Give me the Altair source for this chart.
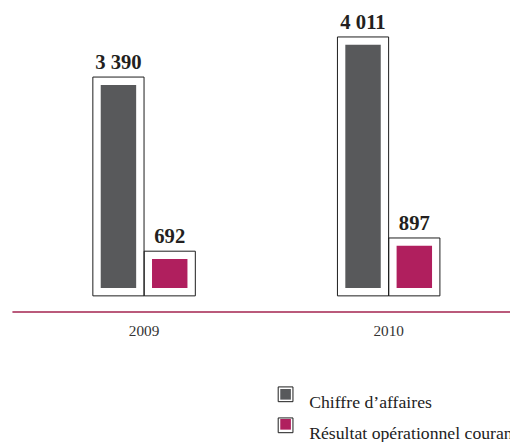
import altair as alt
import pandas as pd

years = ["2009", "2010"]
series = ["Chiffre d’affaires", "Résultat opérationnel courant"]
chiffre_affaires = [3390, 4011]
resultat_op = [692, 897]
colors = ["#58595B", "#B01F5E"]

rows = []
for i, yr in enumerate(years):
    rows.append({"year": yr, "series": series[0], "value": chiffre_affaires[i]})
    rows.append({"year": yr, "series": series[1], "value": resultat_op[i]})
df = pd.DataFrame(rows)

FONT = "Liberation Serif"

x = alt.X(
    "year:N",
    scale=alt.Scale(range=[4, 521], paddingInner=0.5806, paddingOuter=0.3306),
    axis=alt.Axis(
        title=None, orient="bottom", offset=16, domainColor="#A3234F",
        domainWidth=1.5, ticks=False, grid=False, labelAngle=0, labelPadding=12,
        labelFont=FONT, labelFontSize=15.5, labelColor="#333333",
    ),
)
xo = alt.XOffset("series:N", scale=alt.Scale(paddingInner=0, paddingOuter=0))
y = alt.Y("value:Q", scale=alt.Scale(domain=[0, 4407]), axis=None)

legend_common = dict(
    title=None, orient="none", legendX=273, legendY=380, symbolSize=225,
    labelFont=FONT, labelFontSize=18, labelColor="#222222", labelOffset=15,
    labelBaseline="top", rowPadding=3.5, labelLimit=400, padding=0,
)

base = alt.Chart(df)

outer = base.mark_bar(filled=False, strokeWidth=1, width=52).encode(
    x=x, xOffset=xo, y=y,
    stroke=alt.Stroke(
        "series:N",
        scale=alt.Scale(range=["#1a1a1a", "#1a1a1a"]),
        legend=alt.Legend(symbolType="M-1,-1H1V1H-1Z", symbolStrokeWidth=1,
                          symbolFillColor="transparent", **legend_common),
    ),
)

inner = base.mark_bar(width=36, yOffset=8, y2Offset=-8).encode(
    x=x, xOffset=xo, y=y, y2=alt.Y2(datum=0),
    fill=alt.Fill(
        "series:N",
        scale=alt.Scale(domain=series, range=colors),
        legend=alt.Legend(symbolType="M-0.72,-0.72H0.72V0.72H-0.72Z",
                          symbolStrokeWidth=0, labelOpacity=0, **legend_common),
    ),
)

labels = base.transform_calculate(
    label="replace(format(datum.value, ','), ',', ' ')"
).mark_text(
    font=FONT, fontWeight="bold", fontSize=21, baseline="alphabetic", dy=-8,
    color="#231F20",
).encode(x=x, xOffset=xo, y=y, text="label:N")

chart = alt.layer(outer, inner, labels).properties(
    width=510, height=289,
    autosize=alt.AutoSizeParams(type="none"),
    padding={"left": 0, "top": 0, "right": 0, "bottom": 145},
).configure(background="white", font=FONT).configure_view(stroke=None)

chart.save("out.html", embed_options={"renderer": "svg", "actions": False})
